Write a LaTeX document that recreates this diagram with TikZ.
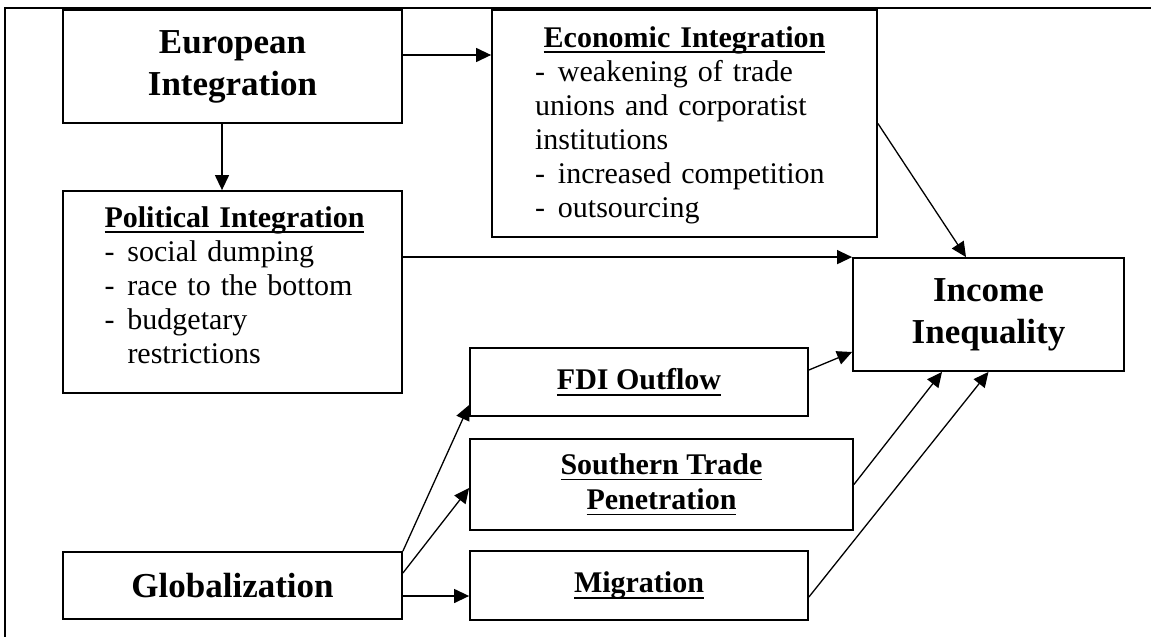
\documentclass[tikz,border=0pt]{standalone}
\usepackage{fontspec}
\setmainfont{Liberation Serif}
\usepackage{tikz}
\usetikzlibrary{arrows.meta}

% underlined heading, rule sits a little below the baseline
\newsavebox{\ulinebox}
\newcommand{\ulined}[1]{\sbox{\ulinebox}{#1}\rlap{\rule[-6pt]{\wd\ulinebox}{1.8pt}}\usebox{\ulinebox}}
% list dash and the matching hanging indent
\newcommand{\dashitem}{-\hspace{13pt}}
\newcommand{\dashindent}{\hspace*{23pt}}

\begin{document}
\begin{tikzpicture}[x=1pt,y=-1pt]
		\tikzstyle{box}=[draw=black, line width=1.8pt, inner sep=0pt]
		\tikzstyle{bigtitle}=[box, font=\fontsize{35}{42}\selectfont\bfseries, align=center]
		\tikzstyle{subtitle}=[box, font=\fontsize{30}{35}\selectfont\bfseries, align=center]
		\tikzstyle{listtext}=[draw=none, inner sep=0pt, anchor=north, font=\fontsize{30}{34}\selectfont]
		\tikzstyle{arr}=[line width=1.3pt, -{Triangle[length=15pt,width=14pt]}]

		\useasboundingbox (0,0) rectangle (1151,637);

		% table frame
		\draw [line width=1.6pt] (5,637) -- (5,8) -- (1151,8);

		% European side
		\node [bigtitle, minimum width=339pt, minimum height=113pt] (euro) at (232.5,66.5) {European\\Integration};

		\node [box, minimum width=385pt, minimum height=227pt] (econ) at (684.5,123.5) {};
		\node [listtext, text width=299pt] (econtext) at ([yshift=-17pt]econ.north) {%
			{\centering\textbf{\ulined{Economic Integration}}\par}
			\raggedright \dashitem weakening of trade\\
			unions and corporatist\\
			institutions\\
			\dashitem increased competition\\
			\dashitem outsourcing};

		\node [box, minimum width=339pt, minimum height=202pt] (pol) at (232.5,292) {};
		\node [listtext, text width=256pt] (poltext) at ([yshift=-16pt]pol.north) {%
			{\centering\textbf{\ulined{Political Integration}}\par}
			\raggedright \dashitem social dumping\\
			\dashitem race to the bottom\\
			\dashitem budgetary\\
			\dashindent restrictions};

		% outcome
		\node [bigtitle, minimum width=271pt, minimum height=113pt] (income) at (988.5,314.5) {Income\\Inequality};

		% globalization channels
		\node [subtitle, minimum width=338pt, minimum height=68pt] (fdi) at (639,382) {\ulined{FDI Outflow}};
		\node [subtitle, minimum width=383pt, minimum height=91pt] (south) at (661.5,484.5) {\ulined{Southern Trade}\\\ulined{Penetration}};
		\node [subtitle, minimum width=338pt, minimum height=69pt] (migr) at (639,585.5) {\ulined{Migration}};
		\node [bigtitle, minimum width=339pt, minimum height=67pt] (glob) at (232.5,585.5) {Globalization};

		% arrows
		\draw [arr] ([xshift=-10.5pt]euro.south) -- ([xshift=-10.5pt]pol.north);
		\draw [arr] ([yshift=11.5pt]euro.east) -- ([yshift=11.5pt]euro.east -| econ.west);
		\draw [arr] (econ.east) -- ([xshift=-22.5pt]income.north);
		\draw [arr] (pol.east |- income.north west) -- (income.north west);
		\draw [arr] ([yshift=12pt]fdi.east) -- ([yshift=-37.5pt]income.west);
		\draw [arr] (south.east) -- ([xshift=-46.5pt]income.south);
		\draw [arr] ([yshift=-11.5pt]migr.east) -- (income.south);
		\draw [arr] (glob.north east) -- ([yshift=-23pt]fdi.west);
		\draw [arr] ([yshift=12.5pt]glob.east) -- ([yshift=-3.5pt]south.west);
		\draw [arr] ([yshift=-10.5pt]glob.east) -- ([yshift=-10.5pt]glob.east -| migr.west);

	\end{tikzpicture}
\end{document}
